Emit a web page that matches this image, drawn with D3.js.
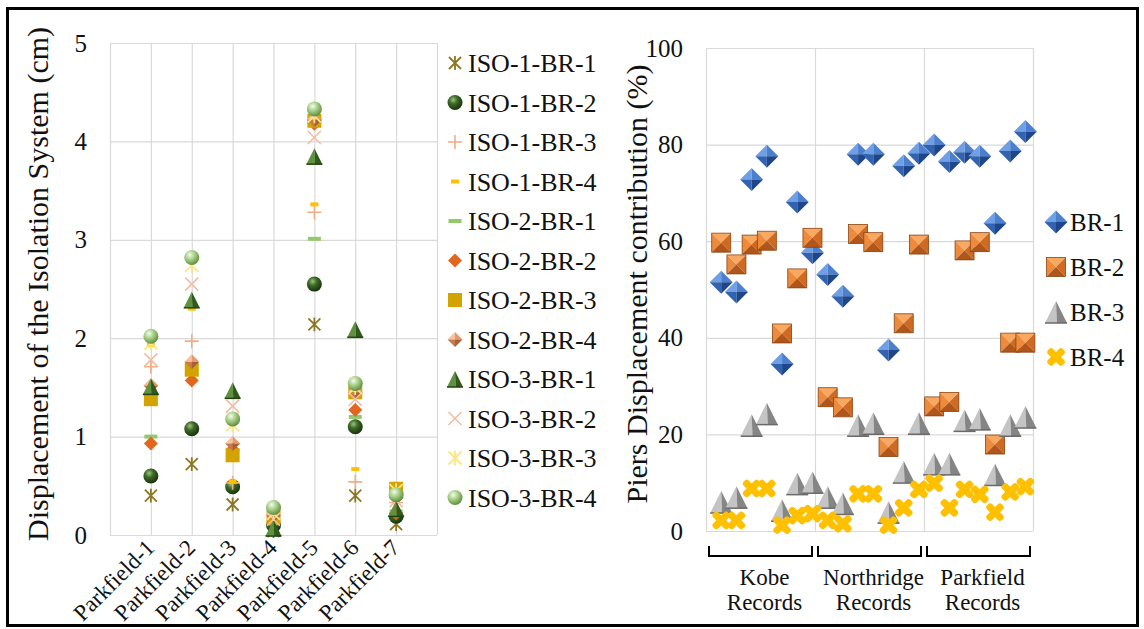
<!DOCTYPE html>
<html>
<head>
<meta charset="utf-8">
<script src="https://cdn.jsdelivr.net/npm/d3@7"></script>
<style>
  body { margin: 0; background: #fff; }
  svg { display: block; }
</style>
</head>
<body>
<svg id="chart" width="1144" height="629"></svg>
<script>
// ---- left chart data (displacement of isolation system, cm) ----
const records = ["Parkfield-1", "Parkfield-2", "Parkfield-3", "Parkfield-4", "Parkfield-5", "Parkfield-6", "Parkfield-7"];
const isoNames = ["ISO-1-BR-1", "ISO-1-BR-2", "ISO-1-BR-3", "ISO-1-BR-4",
                  "ISO-2-BR-1", "ISO-2-BR-2", "ISO-2-BR-3", "ISO-2-BR-4",
                  "ISO-3-BR-1", "ISO-3-BR-2", "ISO-3-BR-3", "ISO-3-BR-4"];
const iso1br1 = [0.40, 0.72, 0.31, 0.04, 2.14, 0.40, 0.11];
const iso1br2 = [0.60, 1.08, 0.49, 0.10, 2.55, 1.10, 0.19];
const iso1br3 = [1.71, 1.97, 0.53, 0.13, 3.28, 0.54, 0.33];
const iso1br4 = [1.93, 2.30, 0.54, 0.16, 3.36, 0.67, 0.47];
const iso2br1 = [1.00, 1.65, 0.85, 0.12, 3.01, 1.20, 0.24];
const iso2br2 = [0.93, 1.57, 0.87, 0.15, 4.18, 1.27, 0.22];
const iso2br3 = [1.38, 1.68, 0.81, 0.18, 4.21, 1.45, 0.47];
const iso2br4 = [1.52, 1.76, 0.93, 0.20, 4.22, 1.45, 0.38];
const iso3br1 = [1.51, 2.39, 1.47, 0.07, 3.85, 2.09, 0.27];
const iso3br2 = [1.78, 2.55, 1.31, 0.16, 4.04, 1.38, 0.35];
const iso3br3 = [1.95, 2.74, 1.12, 0.22, 4.26, 1.50, 0.45];
const iso3br4 = [2.02, 2.82, 1.18, 0.28, 4.33, 1.54, 0.41];
const leftTicks = [0, 1, 2, 3, 4, 5];

// ---- right chart data (piers displacement contribution, %) ----
const groups = [["Kobe", "Records"], ["Northridge", "Records"], ["Parkfield", "Records"]];
const brNames = ["BR-1", "BR-2", "BR-3", "BR-4"];
const br1 = [51.5, 49.5, 72.8, 77.6, 34.6, 68.1, 57.6, 53.1, 48.6, 78.0, 78.0, 37.5, 75.6, 78.2, 79.9, 76.5, 78.4, 77.6, 63.7, 78.7, 82.7];
const br2 = [59.7, 55.2, 59.3, 60.1, 40.9, 52.3, 60.7, 27.7, 25.6, 61.5, 59.8, 17.4, 43.0, 59.3, 25.8, 26.7, 58.1, 59.8, 17.9, 39.0, 39.0];
const br3 = [6.0, 7.0, 21.9, 24.3, 4.3, 9.8, 10.1, 7.0, 5.7, 21.9, 22.3, 3.9, 12.2, 22.3, 13.9, 13.9, 22.9, 23.2, 11.7, 21.9, 23.6];
const br4 = [2.2, 2.2, 8.8, 8.8, 1.2, 3.2, 3.6, 2.2, 1.5, 7.7, 7.7, 1.2, 4.8, 8.6, 9.9, 4.8, 8.6, 7.6, 3.9, 8.1, 9.2];
const rightTicks = [0, 20, 40, 60, 80, 100];

const isoValues = [iso1br1, iso1br2, iso1br3, iso1br4, iso2br1, iso2br2, iso2br3, iso2br4, iso3br1, iso3br2, iso3br3, iso3br4];
const brValues = [br1, br2, br3, br4];

const FONT = "'Liberation Serif', 'Times New Roman', Times, serif";
const svg = d3.select("#chart");
const defs = svg.append("defs");

function radial(id, stops) {
    const gr = defs.append("radialGradient").attr("id", id)
        .attr("cx", "38%").attr("cy", "32%").attr("r", "70%");
    stops.forEach(s => gr.append("stop").attr("offset", s[0]).attr("stop-color", s[1]));
}
radial("sph-dark", [["0%", "#9cc27e"], ["40%", "#3d6a28"], ["100%", "#16300c"]]);
radial("sph-light", [["0%", "#f4fbec"], ["45%", "#a8d08a"], ["100%", "#5d8c3c"]]);

// marker painters
function poly(g, pts, fill) {
    g.append("path").attr("d", "M" + pts.map(p => p.join(",")).join("L") + "Z").attr("fill", fill);
}
function diamond3d(g, h, c) {
    poly(g, [[0, -h], [-h, 0], [0, 0]], c[0]);
    poly(g, [[0, -h], [h, 0], [0, 0]], c[1]);
    poly(g, [[-h, 0], [0, h], [0, 0]], c[2]);
    poly(g, [[h, 0], [0, h], [0, 0]], c[3]);
}
function square3d(g, s, c) {
    poly(g, [[-s, -s], [s, -s], [0, 0]], c[0]);
    poly(g, [[-s, -s], [-s, s], [0, 0]], c[1]);
    poly(g, [[s, -s], [s, s], [0, 0]], c[2]);
    poly(g, [[-s, s], [s, s], [0, 0]], c[3]);
    g.append("rect").attr("x", -s).attr("y", -s).attr("width", 2 * s).attr("height", 2 * s)
        .attr("fill", "none").attr("stroke", c[4]).attr("stroke-width", 0.8);
}
function triangle3d(g, s, c) {
    const h = s;
    poly(g, [[0, -h / 2], [-s / 2, h / 2], [s * 0.04, h / 2]], c[0]);
    poly(g, [[0, -h / 2], [s * 0.04, h / 2], [s / 2, h / 2]], c[1]);
    g.append("path").attr("d", `M${-s / 2},${h / 2}L${s / 2},${h / 2}`)
        .attr("stroke", c[2]).attr("stroke-width", 1.5);
}

function drawMarker(g, st) {
    switch (st.shape) {
        case "star": {
            const r = st.r;
            g.append("path").attr("d", `M${-r},${-r}L${r},${r}M${-r},${r}L${r},${-r}M0,${-r * 1.15}L0,${r * 1.15}`)
                .attr("stroke", st.color).attr("stroke-width", 1.8).attr("fill", "none");
            break;
        }
        case "sphere":
            g.append("circle").attr("r", st.r).attr("fill", st.fill);
            break;
        case "plus":
            g.append("path").attr("d", `M${-st.r},0L${st.r},0M0,${-st.r}L0,${st.r}`)
                .attr("stroke", st.color).attr("stroke-width", 1.6);
            break;
        case "x":
            g.append("path").attr("d", `M${-st.r},${-st.r}L${st.r},${st.r}M${-st.r},${st.r}L${st.r},${-st.r}`)
                .attr("stroke", st.color).attr("stroke-width", 1.6);
            break;
        case "dash":
            g.append("rect").attr("x", -st.w / 2).attr("y", -2).attr("width", st.w).attr("height", 4).attr("fill", st.color);
            break;
        case "diamond":
            g.append("path").attr("d", `M0,${-st.r}L${st.r},0L0,${st.r}L${-st.r},0Z`).attr("fill", st.color);
            break;
        case "square":
            g.append("rect").attr("x", -st.r).attr("y", -st.r).attr("width", 2 * st.r).attr("height", 2 * st.r).attr("fill", st.color);
            break;
        case "diamond3d":
            diamond3d(g, st.r, st.colors);
            break;
        case "square3d":
            square3d(g, st.r, st.colors);
            break;
        case "triangle3d":
            triangle3d(g, st.r, st.colors);
            break;
        case "cross": {
            [45, -45].forEach(a => g.append("rect").attr("x", -st.r).attr("y", -3.6).attr("width", 2 * st.r).attr("height", 7.2)
                .attr("rx", 3).attr("fill", st.color).attr("transform", `rotate(${a})`));
            break;
        }
    }
}

const isoStyles = [
    { shape: "star", r: 6, color: "#8e7720" },
    { shape: "sphere", r: 7.5, fill: "url(#sph-dark)" },
    { shape: "plus", r: 7, color: "#f2ad84" },
    { shape: "dash", w: 8, color: "#ffc000" },
    { shape: "dash", w: 13, color: "#93c86f" },
    { shape: "diamond", r: 7, color: "#e2661c" },
    { shape: "square", r: 7, color: "#d3a300" },
    { shape: "diamond3d", r: 7.5, colors: ["#f6c3a0", "#e39a6c", "#c87a4c", "#a8603a"] },
    { shape: "triangle3d", r: 16, colors: ["#5f9140", "#2f5a1c", "#22420f"] },
    { shape: "x", r: 6.5, color: "#f2bda2" },
    { shape: "star", r: 6.5, color: "#ffe680" },
    { shape: "sphere", r: 7.5, fill: "url(#sph-light)" }
];
const brStyles = [
    { shape: "diamond3d", r: 11.5, colors: ["#6f9fe4", "#4c80cf", "#3163b0", "#1e4688"] },
    { shape: "square3d", r: 9.5, colors: ["#f8a860", "#ee8a3c", "#cf6a22", "#b0561a", "#8a4512"] },
    { shape: "triangle3d", r: 22, colors: ["#c4c4c4", "#858585", "#6a6a6a"] },
    { shape: "cross", r: 10.5, color: "#ffc000" }
];

const grid = "#d9d9d9";
function styleAxis(sel, fontSize) {
    sel.select(".domain").remove();
    sel.selectAll(".tick line").attr("stroke", grid).attr("stroke-width", 1.2);
    sel.attr("font-family", FONT).attr("font-size", fontSize);
    sel.selectAll("text").attr("fill", "#111");
}

// ================= LEFT CHART =================
const xL = d3.scaleLinear().domain([0, 8]).range([110, 437]);
const yL = d3.scaleLinear().domain([0, 5]).range([535, 43]);

svg.append("g").attr("transform", "translate(0,535)")
    .call(d3.axisBottom(xL).tickValues(d3.range(0, 9)).tickSize(-(535 - 43)).tickFormat(""))
    .call(s => styleAxis(s, 10));
svg.append("g").attr("transform", "translate(110,0)")
    .call(d3.axisLeft(yL).tickValues(leftTicks).tickSize(-(437 - 110)).tickPadding(23).tickFormat(d3.format("d")))
    .call(s => styleAxis(s, 25));

svg.append("g").selectAll("text").data(records).join("text")
    .attr("transform", (d, i) => `translate(${xL(i + 1) + 5},549) rotate(-45)`)
    .attr("text-anchor", "end")
    .attr("font-size", 23)
    .attr("fill", "#111")
    .text(d => d);

svg.append("text")
    .attr("transform", `translate(48,284) rotate(-90)`)
    .attr("text-anchor", "middle")
    .attr("font-size", 30)
    .attr("fill", "#111")
    .text("Displacement of the Isolation System (cm)");

isoValues.forEach((vals, k) => {
    const sg = svg.append("g");
    vals.forEach((v, i) => {
        const g = sg.append("g").attr("transform", `translate(${xL(i + 1)},${yL(v)})`);
        drawMarker(g, isoStyles[k]);
    });
});

// left legend
const legL = svg.append("g");
isoNames.forEach((name, k) => {
    const y = 63 + 39.5 * k;
    drawMarker(legL.append("g").attr("transform", `translate(455,${y})`), isoStyles[k]);
    legL.append("text").attr("x", 468).attr("y", y).attr("dy", "0.35em")
        .attr("font-size", 26).attr("fill", "#111").text(name);
});

// ================= RIGHT CHART =================
const xR = d3.scaleLinear().domain([0, 21.5]).range([706, 1033]);
const yR = d3.scaleLinear().domain([0, 100]).range([531, 48]);
const groupEdges = [0, 21.5 / 3, 43 / 3, 21.5];

svg.append("g").attr("transform", "translate(0,531)")
    .call(d3.axisBottom(xR).tickValues(groupEdges).tickSize(-(531 - 48)).tickFormat(""))
    .call(s => styleAxis(s, 10));
svg.append("g").attr("transform", "translate(706,0)")
    .call(d3.axisLeft(yR).tickValues(rightTicks).tickSize(-(1033 - 706)).tickPadding(23).tickFormat(d3.format("d")))
    .call(s => styleAxis(s, 25));

svg.append("text")
    .attr("transform", `translate(647,284) rotate(-90)`)
    .attr("text-anchor", "middle")
    .attr("font-size", 30)
    .attr("fill", "#111")
    .text("Piers Displacement contribution (%)");

brValues.forEach((vals, k) => {
    const sg = svg.append("g");
    vals.forEach((v, i) => {
        const g = sg.append("g").attr("transform", `translate(${xR(i + 1)},${yR(v)})`);
        drawMarker(g, brStyles[k]);
    });
});

// group brackets + labels
groups.forEach((lab, j) => {
    const x0 = xR(groupEdges[j]) + 3, x1 = xR(groupEdges[j + 1]) - 3;
    svg.append("path").attr("d", `M${x0},546V556H${x1}V546`)
        .attr("fill", "none").attr("stroke", "#000").attr("stroke-width", 2);
    const cx = (xR(groupEdges[j]) + xR(groupEdges[j + 1])) / 2 + 4;
    lab.forEach((t, r) => svg.append("text").attr("x", cx).attr("y", 577 + 25 * r).attr("dy", "0.35em")
        .attr("text-anchor", "middle").attr("font-size", 23).attr("fill", "#111").text(t));
});

// right legend
const legR = svg.append("g");
brNames.forEach((name, k) => {
    const y = 222 + 45 * k;
    drawMarker(legR.append("g").attr("transform", `translate(1056,${y})`), brStyles[k]);
    legR.append("text").attr("x", 1070).attr("y", y).attr("dy", "0.35em")
        .attr("font-size", 25).attr("fill", "#111").text(name);
});

// outer frame
svg.append("rect").attr("x", 7.5).attr("y", 8.5).attr("width", 1130).attr("height", 617)
    .attr("fill", "none").attr("stroke", "#000").attr("stroke-width", 3);

svg.selectAll("text").attr("font-family", FONT);
</script>
</body>
</html>
